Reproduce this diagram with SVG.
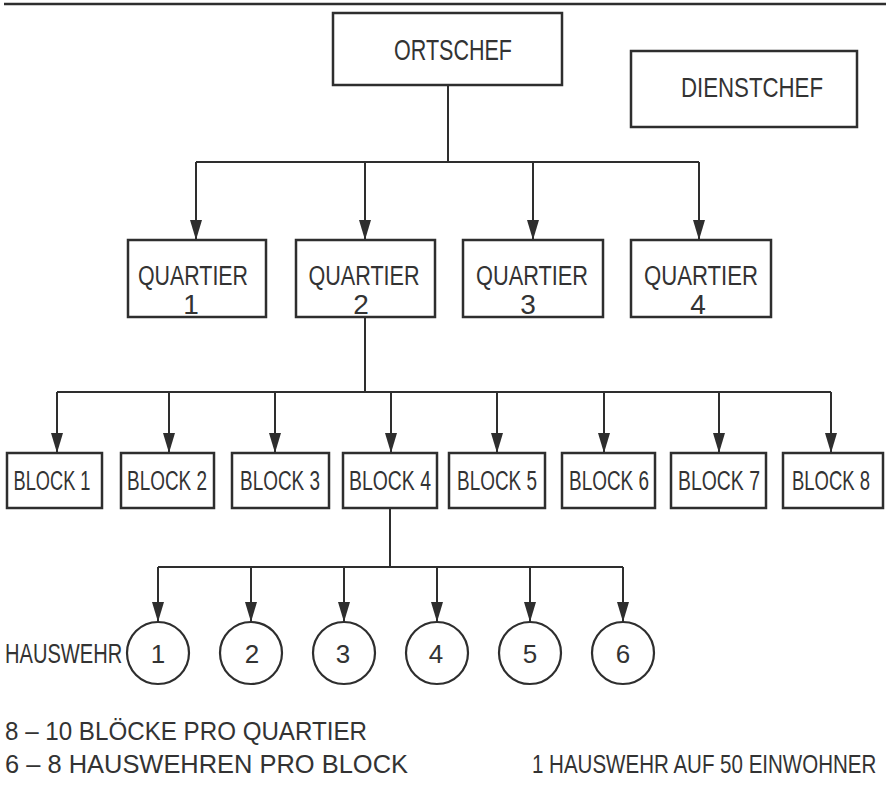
<svg xmlns="http://www.w3.org/2000/svg" width="886" height="785" viewBox="0 0 886 785">
<style>
.bg{fill:#ffffff}
.box{fill:#ffffff;stroke:#2e2e2e;stroke-width:2.5}
.circ{fill:#ffffff;stroke:#2e2e2e;stroke-width:2.2}
.ln{fill:none;stroke:#2e2e2e;stroke-width:2}
.arr{fill:none;stroke:#2e2e2e;stroke-width:2;marker-end:url(#ah)}
text{font-family:"Liberation Sans",Arial,sans-serif;fill:#333333;}
.t{text-anchor:middle}
</style>
<defs>
<marker id="ah" viewBox="0 0 20 12" refX="20" refY="6" markerWidth="20" markerHeight="12" markerUnits="userSpaceOnUse" orient="auto">
<path d="M0,0 L20,6 L0,12 z" fill="#2e2e2e"/>
</marker>
</defs>
<rect class="bg" x="0" y="0" width="886" height="785"/>
<line x1="4" y1="4" x2="886" y2="4" stroke="#2e2e2e" stroke-width="2.5"/>

<g id="connectors">
<line class="ln" x1="448" y1="85" x2="448" y2="162"/>
<line class="ln" x1="196" y1="162" x2="699" y2="162"/>
<line class="arr" x1="196" y1="162" x2="196" y2="240"/>
<line class="arr" x1="365" y1="162" x2="365" y2="240"/>
<line class="arr" x1="533" y1="162" x2="533" y2="240"/>
<line class="arr" x1="699" y1="162" x2="699" y2="240"/>

<line class="ln" x1="365" y1="317" x2="365" y2="392"/>
<line class="ln" x1="57" y1="392" x2="831" y2="392"/>
<line class="arr" x1="57" y1="392" x2="57" y2="453"/>
<line class="arr" x1="169" y1="392" x2="169" y2="453"/>
<line class="arr" x1="275" y1="392" x2="275" y2="453"/>
<line class="arr" x1="391" y1="392" x2="391" y2="453"/>
<line class="arr" x1="497" y1="392" x2="497" y2="453"/>
<line class="arr" x1="604" y1="392" x2="604" y2="453"/>
<line class="arr" x1="719" y1="392" x2="719" y2="453"/>
<line class="arr" x1="831" y1="392" x2="831" y2="453"/>

<line class="ln" x1="390" y1="508" x2="390" y2="567"/>
<line class="ln" x1="158" y1="567" x2="623" y2="567"/>
<line class="arr" x1="158" y1="567" x2="158" y2="622"/>
<line class="arr" x1="251" y1="567" x2="251" y2="622"/>
<line class="arr" x1="344" y1="567" x2="344" y2="622"/>
<line class="arr" x1="437" y1="567" x2="437" y2="622"/>
<line class="arr" x1="530" y1="567" x2="530" y2="622"/>
<line class="arr" x1="623" y1="567" x2="623" y2="622"/>
</g>

<g id="ortschef">
<rect class="box" x="333" y="13" width="229" height="72"/>
<text class="t" x="453" y="60" font-size="29" textLength="118" lengthAdjust="spacingAndGlyphs">ORTSCHEF</text>
</g>
<g id="dienstchef">
<rect class="box" x="631" y="51" width="226" height="76"/>
<text class="t" x="752" y="97" font-size="28" textLength="142" lengthAdjust="spacingAndGlyphs">DIENSTCHEF</text>
</g>

<g id="quartier1">
<rect class="box" x="128" y="240" width="138" height="77"/>
<text class="t" x="193" y="285" font-size="27" textLength="110" lengthAdjust="spacingAndGlyphs">QUARTIER</text>
<text class="t" x="191" y="314" font-size="28">1</text>
</g>
<g id="quartier2">
<rect class="box" x="296" y="240" width="139" height="77"/>
<text class="t" x="364" y="285" font-size="27" textLength="111" lengthAdjust="spacingAndGlyphs">QUARTIER</text>
<text class="t" x="361" y="314" font-size="28">2</text>
</g>
<g id="quartier3">
<rect class="box" x="463" y="240" width="140" height="77"/>
<text class="t" x="532" y="285" font-size="27" textLength="112" lengthAdjust="spacingAndGlyphs">QUARTIER</text>
<text class="t" x="528" y="314" font-size="28">3</text>
</g>
<g id="quartier4">
<rect class="box" x="631" y="240" width="140" height="77"/>
<text class="t" x="701" y="285" font-size="27" textLength="114" lengthAdjust="spacingAndGlyphs">QUARTIER</text>
<text class="t" x="698" y="314" font-size="28">4</text>
</g>

<g id="block1">
<rect class="box" x="7" y="453" width="95" height="55"/>
<text class="t" x="52" y="490" font-size="27" textLength="77" lengthAdjust="spacingAndGlyphs">BLOCK 1</text>
</g>
<g id="block2">
<rect class="box" x="121" y="453" width="93" height="55"/>
<text class="t" x="167" y="490" font-size="27" textLength="80" lengthAdjust="spacingAndGlyphs">BLOCK 2</text>
</g>
<g id="block3">
<rect class="box" x="232" y="453" width="97" height="55"/>
<text class="t" x="280" y="490" font-size="27" textLength="80" lengthAdjust="spacingAndGlyphs">BLOCK 3</text>
</g>
<g id="block4">
<rect class="box" x="343" y="453" width="94" height="55"/>
<text class="t" x="390" y="490" font-size="27" textLength="82" lengthAdjust="spacingAndGlyphs">BLOCK 4</text>
</g>
<g id="block5">
<rect class="box" x="449" y="453" width="96" height="55"/>
<text class="t" x="497" y="490" font-size="27" textLength="80" lengthAdjust="spacingAndGlyphs">BLOCK 5</text>
</g>
<g id="block6">
<rect class="box" x="562" y="453" width="93" height="55"/>
<text class="t" x="609" y="490" font-size="27" textLength="80" lengthAdjust="spacingAndGlyphs">BLOCK 6</text>
</g>
<g id="block7">
<rect class="box" x="671" y="453" width="95" height="55"/>
<text class="t" x="719" y="490" font-size="27" textLength="82" lengthAdjust="spacingAndGlyphs">BLOCK 7</text>
</g>
<g id="block8">
<rect class="box" x="783" y="453" width="100" height="55"/>
<text class="t" transform="translate(831,490) scale(0.684,1)" x="0" y="0" font-size="27">BLOCK 8</text>
</g>

<g id="hauswehr-label">
<text transform="translate(5,663) scale(0.745,1)" x="0" y="0" font-size="27">HAUSWEHR</text>
</g>
<g id="hw1"><ellipse class="circ" cx="158" cy="653" rx="31" ry="31"/><text class="t" x="158" y="663" font-size="26">1</text></g>
<g id="hw2"><ellipse class="circ" cx="251" cy="653" rx="31" ry="31"/><text class="t" x="252" y="663" font-size="26">2</text></g>
<g id="hw3"><ellipse class="circ" cx="344" cy="653" rx="31" ry="31"/><text class="t" x="343" y="663" font-size="26">3</text></g>
<g id="hw4"><ellipse class="circ" cx="437" cy="653" rx="31" ry="31"/><text class="t" x="436" y="663" font-size="26">4</text></g>
<g id="hw5"><ellipse class="circ" cx="530" cy="653" rx="31" ry="31"/><text class="t" x="530" y="663" font-size="26">5</text></g>
<g id="hw6"><ellipse class="circ" cx="623" cy="653" rx="31" ry="31"/><text class="t" x="623" y="663" font-size="26">6</text></g>

<g id="notes">
<text x="5" y="740" font-size="25" textLength="362" lengthAdjust="spacingAndGlyphs">8 – 10 BLÖCKE PRO QUARTIER</text>
<text x="5" y="773" font-size="26" textLength="403" lengthAdjust="spacingAndGlyphs">6 – 8 HAUSWEHREN PRO BLOCK</text>
<text transform="translate(532,773) scale(0.79,1)" x="0" y="0" font-size="26">1 HAUSWEHR AUF 50 EINWOHNER</text>
</g>
</svg>
